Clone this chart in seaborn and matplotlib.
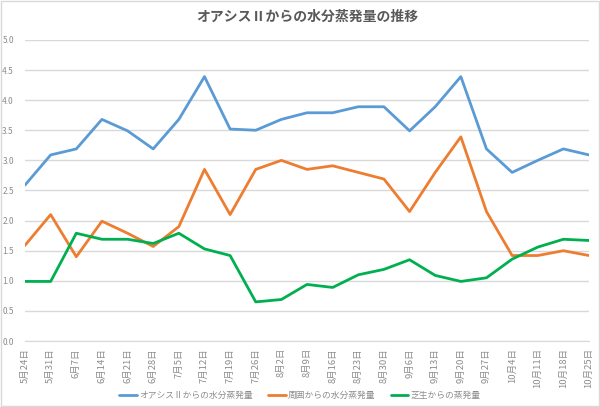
import matplotlib
matplotlib.use("Agg")
import matplotlib.pyplot as plt
import pandas as pd
import seaborn as sns

# Data
dates = ["5月24日", "5月31日", "6月7日", "6月14日", "6月21日", "6月28日", "7月5日",
         "7月12日", "7月19日", "7月26日", "8月2日", "8月9日", "8月16日", "8月23日",
         "8月30日", "9月6日", "9月13日", "9月20日", "9月27日", "10月4日", "10月11日",
         "10月18日", "10月25日"]
oasis = [2.59, 3.09, 3.19, 3.68, 3.49, 3.19, 3.68, 4.39, 3.52, 3.50, 3.68, 3.79,
         3.79, 3.89, 3.89, 3.49, 3.89, 4.39, 3.19, 2.80, 3.00, 3.19, 3.09]
around = [1.59, 2.10, 1.40, 1.99, 1.79, 1.57, 1.90, 2.85, 2.10, 2.85, 3.00, 2.85,
          2.91, 2.80, 2.69, 2.15, 2.80, 3.39, 2.15, 1.42, 1.42, 1.50, 1.42]
lawn = [0.99, 0.99, 1.79, 1.69, 1.69, 1.62, 1.79, 1.53, 1.42, 0.65, 0.69, 0.94,
        0.89, 1.10, 1.19, 1.35, 1.09, 0.99, 1.05, 1.36, 1.56, 1.69, 1.67]
series_names = ["オアシスⅡからの水分蒸発量", "周囲からの水分蒸発量", "芝生からの蒸発量"]
colors = ["#5B9BD5", "#ED7D31", "#00B050"]

rows = []
for name, vals in zip(series_names, [oasis, around, lawn]):
    for i, v in enumerate(vals):
        rows.append({"pos": i, "value": v, "series": name})
df = pd.DataFrame(rows)

sns.set_style("white")
plt.rcParams['font.family'] = ['Noto Sans CJK JP', 'DejaVu Sans']

fig = plt.figure(figsize=(6, 4.07), dpi=100)
ax = fig.add_axes([0.0417, 0.162, 0.940, 0.740])

sns.lineplot(data=df, x="pos", y="value", hue="series", palette=colors,
             hue_order=series_names, linewidth=2, ax=ax, legend=False)

ax.set_xlim(0, len(dates) - 1)
ax.set_ylim(0, 5)
ax.set_yticks([i * 0.5 for i in range(11)])
ax.set_yticklabels([f"{i * 0.5:.1f}" for i in range(11)], fontsize=6, color="#8C8C8C")
ax.set_xticks(range(len(dates)))
ax.set_xticklabels(dates, rotation=90, fontsize=6.8, color="#8C8C8C")
ax.set_xlabel("")
ax.set_ylabel("")
ax.grid(axis="y", color="#D9D9D9", linewidth=1)
for s in ["top", "right", "left"]:
    ax.spines[s].set_visible(False)
ax.spines["bottom"].set_color("#D9D9D9")
ax.tick_params(axis="x", length=3, color="#D9D9D9", pad=2)
ax.tick_params(axis="y", length=0, pad=8)

ax.set_title("オアシスⅡからの水分蒸発量の推移", fontsize=10, color="#595959",
             fontweight="bold", pad=14)

handles = [plt.Line2D([], [], color=c, linewidth=2) for c in colors]
fig.legend(handles, series_names, loc="lower center", bbox_to_anchor=(0.5, -0.003),
           ncol=3, frameon=False, fontsize=6.3, handlelength=2.0, handletextpad=0.3,
           columnspacing=1.7, labelcolor="#8C8C8C")

fig.patches.append(plt.Rectangle((0.002, 0.002), 0.996, 0.996, transform=fig.transFigure,
                                 fill=False, edgecolor="#D9D9D9", linewidth=1))

fig.savefig("out.png", dpi=100)
